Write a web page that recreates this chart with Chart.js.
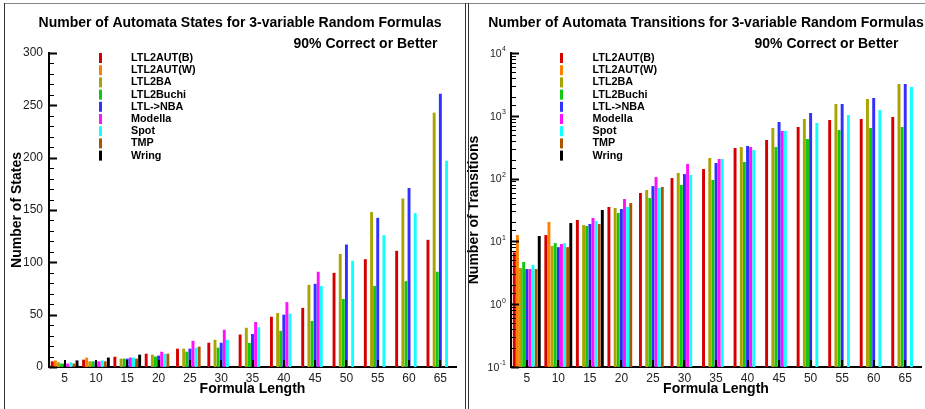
<!DOCTYPE html>
<html>
<head>
<meta charset="utf-8">
<script src="https://cdn.jsdelivr.net/npm/chart.js@4.4.0/dist/chart.umd.min.js"></script>
<style>
  html, body { margin: 0; padding: 0; background: #fff; }
  #wrap { position: relative; width: 925px; height: 409px; overflow: hidden; }
  #left { position: absolute; left: 0; top: 0; }
  #right { position: absolute; left: 464px; top: 0; }
  .ln { position: absolute; background: #333; }
</style>
</head>
<body>
<div id="wrap">
  <canvas id="left" width="464" height="409"></canvas>
  <canvas id="right" width="461" height="409"></canvas>
  <div class="ln" style="left:4px;top:3px;width:921px;height:1px;background:#888"></div>
  <div class="ln" style="left:4px;top:3px;width:1px;height:406px"></div>
  <div class="ln" style="left:465px;top:3px;width:1px;height:406px"></div>
  <div class="ln" style="left:468px;top:3px;width:1px;height:406px"></div>
</div>
<script>
// datos
const lengths = [5, 10, 15, 20, 25, 30, 35, 40, 45, 50, 55, 60, 65];
const tools = ['LTL2AUT(B)', 'LTL2AUT(W)', 'LTL2BA', 'LTL2Buchi', 'LTL->NBA', 'Modella', 'Spot', 'TMP', 'Wring'];
const toolColors = ['#d40000', '#ff8000', '#aaa400', '#10c810', '#3030ff', '#ff10ff', '#10ffff', '#aa5500', '#000000'];

// estados
const statesB       = [5.4, 7, 9.8, 12.7, 17.5, 23.2, 31, 48, 56.5, 90, 103, 111, 121.5];
const statesW       = [6.3, 9, null, null, null, null, null, null, null, null, null, null, null];
const statesBA      = [4.5, 5.4, 8, 11.8, 17.5, 26, 37.5, 51.5, 78.5, 108, 148, 161, 243];
const statesBuchi   = [3.3, 5.4, 8, 10, 14.6, 18.5, 23, 34.5, 44, 65, 77.5, 82, 91];
const statesNBA     = [3.3, 5.4, 8, 10.9, 17.5, 23.2, 31.5, 50, 79.5, 117, 142.5, 171, 261];
const statesModella = [3.3, 5.4, 9, 14.6, 25, 35.6, 43, 62, 91, null, null, null, null];
const statesSpot    = [4.5, 6.3, 9, 12.7, 18.5, 26, 38, 51, 77.5, 101.5, 126, 147, 197];
const statesTMP     = [3.3, 5.4, 8, 12.7, 19.4, null, null, null, null, null, null, null, null];
const statesWring   = [6.3, 9, 11.8, null, null, null, null, null, null, null, null, null, null];

// transiciones
const transB       = [6.7, 12.6, 21.9, 35.3, 59, 102, 142, 307, 412, 663, 857, 889, 957];
const transW       = [12.6, 20.4, null, null, null, null, null, null, null, null, null, null, null];
const transBA      = [3.77, 8.45, 18.2, 34, 65.8, 123, 213, 318, 639, 889, 1541, 1852, 3210];
const transBuchi   = [4.7, 9.4, 17.6, 28.3, 49, 79, 95, 184, 318, 427, 594, 639, 663];
const transNBA     = [3.63, 8.1, 18.9, 32.8, 76, 118, 177, 331, 797, 1109, 1541, 1920, 3210];
const transModella = [3.63, 9.1, 23.6, 47.3, 106, 171, 205, 318, 573, null, null, null, null];
const transSpot    = [4.2, 9.4, 21.1, 35.3, 71, 114, 205, 285, 573, 768, 1030, 1237, 2876];
const transTMP     = [3.63, 8.1, 18.9, 40.8, 73.5, null, null, null, null, null, null, null, null];
const transWring   = [12.2, 19.6, 31.6, null, null, null, null, null, null, null, null, null, null];

const stateTicks = [0, 50, 100, 150, 200, 250, 300];
const FONT = '"Liberation Sans", Arial, sans-serif';

const statesSeries = [statesB, statesW, statesBA, statesBuchi, statesNBA, statesModella, statesSpot, statesTMP, statesWring];
const transSeries = [transB, transW, transBA, transBuchi, transNBA, transModella, transSpot, transTMP, transWring];

function isDecade(v) {
  const e = Math.log10(v);
  return Math.abs(e - Math.round(e)) < 1e-6;
}

// marcas hacia adentro, leyenda y titulos
const decor = {
  id: 'decor',
  afterDatasetsDraw(chart, args, o) {
    const ctx = chart.ctx;
    const xs = chart.scales.x, ys = chart.scales.y, a = chart.chartArea;
    ctx.save();
    ctx.strokeStyle = '#000';
    ctx.lineWidth = 2;
    xs.ticks.forEach((t, i) => {
      const px = Math.round(xs.getPixelForTick(i));
      ctx.beginPath();
      ctx.moveTo(px, a.bottom);
      ctx.lineTo(px, a.bottom - 7);
      ctx.stroke();
    });
    ys.ticks.forEach(t => {
      const major = o.log ? isDecade(t.value) : t.value % 50 === 0;
      const py = Math.round(ys.getPixelForValue(t.value)) + 0.5;
      ctx.lineWidth = major ? 2 : 1;
      ctx.beginPath();
      ctx.moveTo(a.left, py);
      ctx.lineTo(a.left + (major ? 8 : 5), py);
      ctx.stroke();
    });
    ctx.restore();
  },
  afterDraw(chart, args, o) {
    const ctx = chart.ctx;
    const ys = chart.scales.y, a = chart.chartArea;
    ctx.save();
    ctx.fillStyle = '#000';
    ctx.textBaseline = 'middle';
    ctx.textAlign = 'center';
    ctx.font = 'bold 14px ' + FONT;
    ctx.fillText(o.title, o.titleX, 23);
    ctx.fillText('90% Correct or Better', o.subX, 44.5);

    // leyenda
    ctx.textAlign = 'left';
    ctx.font = 'bold 10.8px ' + FONT;
    tools.forEach((name, i) => {
      const yc = 58 + i * 12.2;
      ctx.fillStyle = toolColors[i];
      ctx.fillRect(o.barX, yc - 5, 3, 10);
      ctx.fillStyle = '#000';
      ctx.fillText(name, o.textX, yc);
    });

    // etiquetas 10^n del eje log
    if (o.log) {
      ys.ticks.forEach(t => {
        if (!isDecade(t.value)) return;
        const e = String(Math.round(Math.log10(t.value)));
        const py = ys.getPixelForValue(t.value);
        const right = a.left - 5;
        ctx.font = '7px ' + FONT;
        const ew = ctx.measureText(e).width;
        ctx.fillStyle = '#222';
        ctx.textAlign = 'left';
        ctx.fillText(e, right - ew, py - 3.5);
        ctx.font = '10.5px ' + FONT;
        ctx.textAlign = 'right';
        ctx.fillText('10', right - ew - 0.5, py + 1);
      });
    }
    ctx.restore();
  }
};

function makeChart(id, series, yTitle, yScale, pad, yWidth, decorOpts) {
  const ctx = document.getElementById(id).getContext('2d');
  return new Chart(ctx, {
    type: 'bar',
    data: {
      labels: lengths,
      datasets: tools.map((name, i) => ({
        label: name,
        data: series[i],
        backgroundColor: toolColors[i],
        barPercentage: 0.94,
        categoryPercentage: 0.89
      }))
    },
    options: {
      responsive: false,
      animation: false,
      layout: { padding: pad },
      plugins: {
        legend: { display: false },
        title: { display: false },
        tooltip: { enabled: false },
        decor: decorOpts
      },
      scales: {
        x: {
          offset: true,
          grid: { display: false, drawTicks: false },
          border: { color: '#000', width: 2 },
          ticks: { color: '#222', font: { family: FONT, size: 12 }, padding: 4, maxRotation: 0, autoSkip: false },
          title: { display: true, text: 'Formula Length', color: '#000', font: { family: FONT, size: 14, weight: 'bold' }, padding: { top: 0, bottom: 11 } },
          afterFit: s => { s.height = 42; }
        },
        y: Object.assign({
          grid: { display: false, drawTicks: false },
          border: { color: '#000', width: 2 },
          title: { display: true, text: yTitle, color: '#000', font: { family: FONT, size: 14, weight: 'bold' }, padding: { top: decorOpts.log ? 2 : 9, bottom: 0 } },
          afterFit: s => { s.width = yWidth; }
        }, yScale)
      }
    },
    plugins: [decor]
  });
}

document.addEventListener('DOMContentLoaded', () => {
  makeChart('left', statesSeries, 'Number of States', {
    type: 'linear', min: 0, max: 300,
    ticks: {
      stepSize: 10, autoSkip: false, padding: 6, color: '#222',
      font: { family: FONT, size: 12 },
      callback: v => stateTicks.includes(v) ? v : ''
    }
  }, { top: 53, right: 8, bottom: 0, left: 0 }, 49,
  { title: 'Number of Automata States for 3-variable Random Formulas', titleX: 240, subX: 365.5, barX: 99, textX: 131, log: false });

  makeChart('right', transSeries, 'Number of Transitions', {
    type: 'logarithmic', min: 0.1, max: 10000,
    ticks: { display: false, autoSkip: false }
  }, { top: 53, right: 4, bottom: 0, left: 0 }, 47,
  { title: 'Number of Automata Transitions for 3-variable Random Formulas', titleX: 242, subX: 362.5, barX: 96, textX: 128.5, log: true });
});
</script>
</body>
</html>
